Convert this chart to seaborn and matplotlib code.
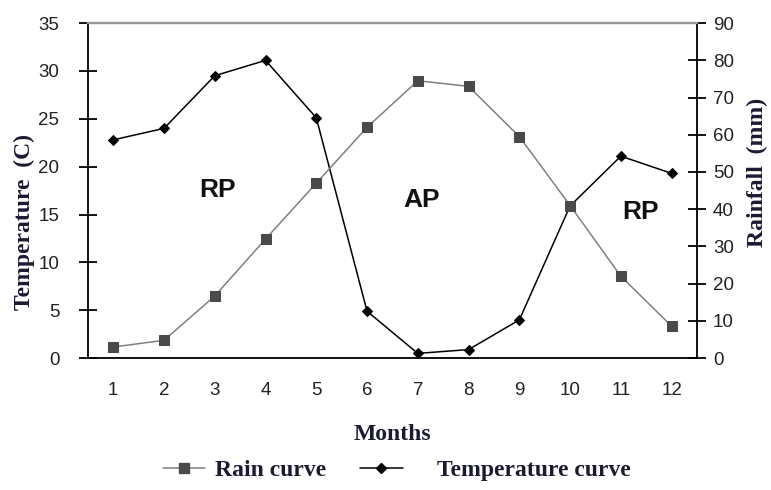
import matplotlib.pyplot as plt
import matplotlib.lines as mlines
import pandas as pd
import seaborn as sns
import numpy as np

# Data
months = [1, 2, 3, 4, 5, 6, 7, 8, 9, 10, 11, 12]
rain_mm = [3.0, 4.8, 16.7, 32.0, 47.0, 62.0, 74.5, 73.0, 59.5, 41.0, 22.0, 8.6]
temperature_c = [22.8, 24.0, 29.5, 31.1, 25.1, 4.9, 0.5, 0.9, 4.0, 15.9, 21.1, 19.3]
period_labels = ["RP", "AP", "RP"]
period_x = [3.06, 7.08, 11.38]
period_y = [17.6, 16.5, 15.3]

df = pd.DataFrame({"month": months, "rain": rain_mm, "temp": temperature_c})

sns.set_theme(style="white")
plt.rcParams["font.family"] = ["Liberation Sans", "DejaVu Sans"]

fig = plt.figure(figsize=(7.71, 4.90), dpi=100)
ax = fig.add_axes([0.114, 0.269, 0.790, 0.684])
ax2 = ax.twinx()

label_color = "#1a1a33"
serif = ["Liberation Serif", "DejaVu Serif"]
lab_size = 17

# Temperature curve on the left axis
sns.lineplot(data=df, x="month", y="temp", ax=ax, color="black", linewidth=1.1,
             marker="D", markersize=5, markeredgecolor="black", zorder=4)
# Rain curve on the right axis
sns.lineplot(data=df, x="month", y="rain", ax=ax2, color="#808080", linewidth=1.1,
             marker="s", markersize=7, markerfacecolor="#4a4a4a",
             markeredgecolor="#4a4a4a", zorder=3)

ax.set_xlim(0.5, 12.5)
ax.set_ylim(0, 35)
ax2.set_ylim(0, 90)
ax.set_yticks(np.arange(0, 36, 5))
ax2.set_yticks(np.arange(0, 91, 10))
ax.set_xticks(months)
ax.set_xticks(np.arange(0.5, 12.6, 1), minor=True)
ax.tick_params(axis="x", which="major", length=0, labelsize=13.5, pad=17, colors="#222222")
ax.tick_params(axis="x", which="minor", direction="inout", length=12, width=1.3, color="black")
ax.tick_params(axis="y", direction="inout", length=13, width=1.3, labelsize=13.5,
               colors="#222222", left=True, pad=14)
ax2.tick_params(axis="y", direction="inout", length=13, width=1.3, labelsize=13.5,
                colors="#222222", right=True, pad=5)
for a in (ax, ax2):
    a.tick_params(axis="y", color="black")

for a in (ax, ax2):
    a.spines["top"].set_color("#999999")
    a.spines["top"].set_linewidth(1.6)
    for s in ("left", "bottom", "right"):
        a.spines[s].set_color("black")
        a.spines[s].set_linewidth(1.3)
ax.spines["right"].set_visible(False)
ax2.spines["left"].set_visible(False)
ax2.spines["bottom"].set_visible(False)

ax.set_xlabel("Months", fontsize=lab_size, fontweight="bold", family=serif, color=label_color)
ax.xaxis.set_label_coords(0.5, -0.227)
ax.xaxis.label.set_va("center")
ax.set_ylabel("Temperature  (C)", fontsize=lab_size, fontweight="bold", family=serif, color=label_color)
ax.yaxis.set_label_coords(-0.105, 0.405)
ax.yaxis.label.set_va("center")
ax2.set_ylabel("Rainfall  (mm)", fontsize=lab_size, fontweight="bold", family=serif, color=label_color)
ax2.yaxis.set_label_coords(1.1, 0.555)
ax2.yaxis.label.set_va("center")

for lab, px, py in zip(period_labels, period_x, period_y):
    ax.text(px, py, lab, fontsize=19, fontweight="bold", ha="center", va="center", color="#111111")

rain_handle = mlines.Line2D([], [], color="#808080", linewidth=1.1, marker="s", markersize=7,
                            markerfacecolor="#4a4a4a", markeredgecolor="#4a4a4a")
temp_handle = mlines.Line2D([], [], color="black", linewidth=1.1, marker="D", markersize=5)
leg_prop = {"family": serif, "weight": "bold", "size": lab_size}
leg1 = fig.legend([rain_handle], ["Rain curve"], loc="center left",
                  bbox_to_anchor=(0.211, 0.04), frameon=False, handlelength=1.8,
                  handletextpad=0.4, borderpad=0, borderaxespad=0, prop=leg_prop)
leg2 = fig.legend([temp_handle], ["Temperature curve"], loc="center left",
                  bbox_to_anchor=(0.467, 0.04), frameon=False, handlelength=1.8,
                  handletextpad=1.45, borderpad=0, borderaxespad=0, prop=leg_prop)
for leg in (leg1, leg2):
    for t in leg.get_texts():
        t.set_color(label_color)

fig.savefig("out.png", dpi=100)
